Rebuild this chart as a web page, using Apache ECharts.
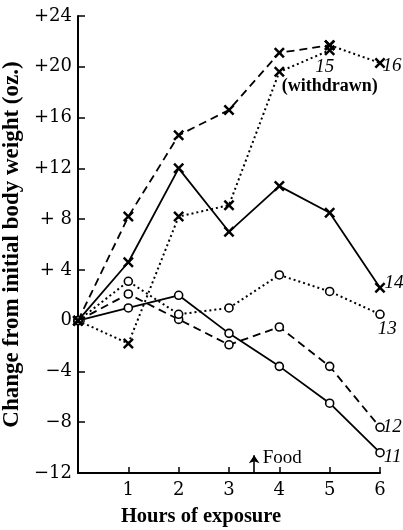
<!DOCTYPE html>
<html><head><meta charset="utf-8">
<script src="https://cdn.jsdelivr.net/npm/echarts@6/dist/echarts.min.js"></script>
<style>html,body{margin:0;padding:0;background:#fff}#c{width:403px;height:530px}</style>
</head><body><div id="c"></div>
<script>
const hours = [0, 1, 2, 3, 4, 5, 6];
const s11 = [0, 1.0, 2.0, -1.0, -3.6, -6.5, -10.4];
const s12 = [0, 2.1, 0.1, -1.9, -0.5, -3.6, -8.4];
const s13 = [0, 3.1, 0.5, 1.0, 3.6, 2.3, 0.5];
const s14 = [0, 4.6, 12.0, 7.0, 10.6, 8.5, 2.6];
const s15 = [0, -1.8, 8.2, 9.1, 19.6, 21.3];
const s16 = [0, 8.2, 14.6, 16.6, 21.1, 21.7, 20.3];
const yTickLabels = {'-12':'−12','-8':'−8','-4':'−4','0':'0','4':'+ 4','8':'+ 8','12':'+12','16':'+16','20':'+20','24':'+24'};
const xTickLabels = {'0':'','1':'1','2':'2','3':'3','4':'4','5':'5','6':'6'};
const foodHour = 3.5;
const foodText = 'Food';

const SERIF = 'Liberation Serif';
const TICKFONT = 'DejaVu Serif';
const CROSS = 'path://M0,1.6L1.6,0L5,3.4L8.4,0L10,1.6L6.6,5L10,8.4L8.4,10L5,6.6L1.6,10L0,8.4L3.4,5Z';

function pts(vals, from) {
  from = from || 0;
  return vals.map((v, i) => [hours[i], v]).slice(from);
}
function numLabel(text, offset) {
  return { show: true, position: 'right', distance: 0, offset: offset || [0, 0], formatter: text,
    fontFamily: SERIF, fontStyle: 'italic', fontSize: 19, color: '#000' };
}
function mk(name, data, type, marker) {
  const circle = marker === 'o';
  return {
    name, type: 'line', data, clip: false,
    symbol: circle ? 'circle' : CROSS,
    symbolSize: circle ? 8 : 11,
    showSymbol: true,
    itemStyle: circle ? { color: '#fff', borderColor: '#000', borderWidth: 1.6 } : { color: '#000' },
    lineStyle: { color: '#000', width: type === 'dotted' ? 2 : 1.8, type: type === 'dashed' ? [8, 5] : (type === 'dotted' ? [2, 3] : 'solid') },
    emphasis: { disabled: true },
    animation: false
  };
}
function withLast(data, label) {
  const d = data.map(p => ({ value: p }));
  d[d.length - 1].label = label;
  return d;
}

const series = [
  mk('11', withLast(pts(s11), numLabel('11', [-1, 4])), 'solid', 'o'),
  mk('12', withLast(pts(s12), numLabel('12', [-2, 0])), 'dashed', 'o'),
  mk('13', withLast(pts(s13), numLabel('13', [-7, 15])), 'dotted', 'o'),
  mk('14', withLast(pts(s14), numLabel('14', [-1, -5])), 'solid', 'x'),
  mk('15', withLast(pts(s15), {
    show: true, position: 'bottom', distance: 1, formatter: '{a|15}\n{b|(withdrawn)}', color: '#000',
    rich: {
      a: { fontFamily: SERIF, fontStyle: 'italic', fontSize: 19, lineHeight: 20, color: '#000', padding: [0, 10, 0, 0] },
      b: { fontFamily: SERIF, fontWeight: 'bold', fontSize: 18, lineHeight: 20, color: '#000' }
    }
  }), 'dotted', 'x'),
  mk('16', pts(s16).slice(0, 6).map(p => ({ value: p })), 'dashed', 'x'),
  mk('16b', withLast(pts(s16, 5), numLabel('16', [-3, 3])), 'dotted', 'x')
];

series.push({
  type: 'line', data: [], silent: true, animation: false,
  markLine: {
    silent: true, symbol: ['none', 'arrow'], symbolSize: 8, animation: false,
    lineStyle: { color: '#000', width: 1.6, type: 'solid' },
    label: { show: false },
    data: [[{ coord: [foodHour, -12] }, { coord: [foodHour, -10.6] }]]
  },
  markPoint: {
    silent: true, symbol: 'circle', symbolSize: 0, animation: false,
    label: { show: true, position: 'right', distance: 0, formatter: foodText, fontFamily: SERIF, fontSize: 19, color: '#000' },
    data: [{ coord: [foodHour + 0.17, -10.8] }]
  }
});

const chart = echarts.init(document.getElementById('c'), null, { renderer: 'canvas' });
chart.setOption({
  backgroundColor: '#fff',
  animation: false,
  grid: { left: 78, right: 23, top: 16, bottom: 57, containLabel: false, outerBoundsMode: 'none' },
  xAxis: {
    type: 'value', min: 0, max: 6, interval: 1,
    name: 'Hours of exposure', nameLocation: 'middle', nameGap: 33,
    nameTextStyle: { fontFamily: SERIF, fontWeight: 'bold', fontSize: 20.5, color: '#000', padding: [0, 56, 0, 0] },
    axisLine: { onZero: false, lineStyle: { color: '#000', width: 2 } },
    axisTick: { inside: true, length: 6, lineStyle: { color: '#000', width: 1.5 } },
    axisLabel: { formatter: v => xTickLabels[String(v)], fontFamily: TICKFONT, fontSize: 18, color: '#000', margin: 8 },
    splitLine: { show: false }
  },
  yAxis: {
    type: 'value', min: -12, max: 24, interval: 4,
    name: 'Change from initial body weight (oz.)', nameLocation: 'middle', nameGap: 52, nameRotate: 90,
    nameTextStyle: { fontFamily: SERIF, fontWeight: 'bold', fontSize: 23, color: '#000' },
    axisLine: { onZero: false, lineStyle: { color: '#000', width: 2 } },
    axisTick: { inside: true, length: 7, lineStyle: { color: '#000', width: 1.5 } },
    axisLabel: { formatter: v => yTickLabels[String(v)], fontFamily: TICKFONT, fontSize: 18, color: '#000', margin: 6 },
    splitLine: { show: false }
  },
  series
});
</script></body></html>
